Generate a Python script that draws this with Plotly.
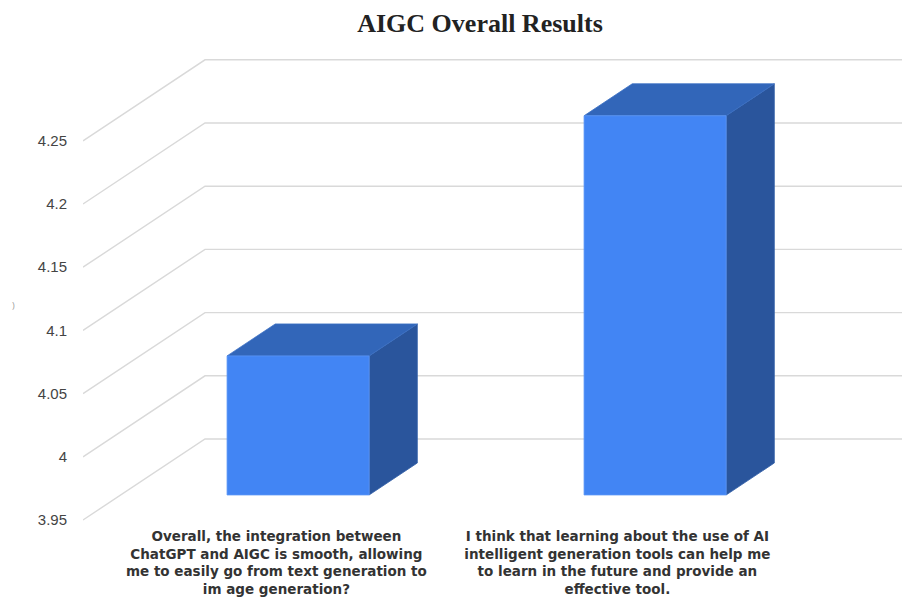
import plotly.graph_objects as go

# ---- data ----
categories = [
    "Overall, the integration between<br>ChatGPT and AIGC is smooth, allowing<br>me to easily go from text generation to<br>im age generation?",
    "I think that learning about the use of AI<br>intelligent generation tools can help me<br>to learn in the future and provide an<br>effective tool.",
]
values = [4.06, 4.25]
tick_vals = [3.95, 4.0, 4.05, 4.1, 4.15, 4.2, 4.25]
tick_text = ["3.95", "4", "4.05", "4.1", "4.15", "4.2", "4.25"]
title_text = "AIGC Overall Results"

# ---- layout geometry (styles) ----
OFF = 8                      # page body margin
W, H = 910 - OFF, 598 - OFF
ML = 83 - OFF
MR = 0
MT = 50 - OFF
MB = H - (524 - OFF)
PX_PER_CAT = 357.0
PX_PER_VAL = 1264.0
CAT0_PX = 260.4 - OFF
VAL0_PY = 520.0 - OFF        # pixel of first tick
LABEL_SHIFT_PX = [16, 0]     # category label nudges
plot_w = W - ML - MR
plot_h = H - MT - MB
XMIN = (ML - CAT0_PX) / PX_PER_CAT
XMAX = (W - MR - CAT0_PX) / PX_PER_CAT
YMIN = tick_vals[0] - ((H - MB) - VAL0_PY) / PX_PER_VAL
YMAX = tick_vals[0] + (VAL0_PY - MT) / PX_PER_VAL

# depth of the 3D box expressed in axis units
DX = 122.0 / PX_PER_CAT
DY = 81.0 / PX_PER_VAL
F1, F2 = 0.309, 0.704      # bar front / back depth fractions
HW = 0.199                 # bar half width (category units)
BASE = tick_vals[0]

fig = go.Figure()

# back wall gridlines + side diagonals
gx, gy = [], []
for v in tick_vals:
    gx += [XMIN, XMIN + DX, XMAX, None]
    gy += [v, v + DY, v + DY, None]
fig.add_trace(go.Scatter(x=gx, y=gy, mode="lines",
                         line=dict(color="#d9d9d9", width=1.4),
                         hoverinfo="skip", showlegend=False, cliponaxis=False))

FRONT = "#4285f4"
TOP = "#3266b9"
SIDE = "#2a559c"

for i, v in enumerate(values):
    c = i
    xl1, xr1 = c - HW + F1 * DX, c + HW + F1 * DX
    xl2, xr2 = c - HW + F2 * DX, c + HW + F2 * DX
    yb1, yt1 = BASE + F1 * DY, v + F1 * DY
    yb2, yt2 = BASE + F2 * DY, v + F2 * DY
    # side face
    fig.add_trace(go.Scatter(x=[xr1, xr2, xr2, xr1, xr1], y=[yt1, yt2, yb2, yb1, yt1],
                             fill="toself", fillcolor=SIDE, mode="lines",
                             line=dict(color="#3461a8", width=0.8),
                             hoverinfo="skip", showlegend=False))
    # top face
    fig.add_trace(go.Scatter(x=[xl1, xr1, xr2, xl2, xl1], y=[yt1, yt1, yt2, yt2, yt1],
                             fill="toself", fillcolor=TOP, mode="lines",
                             line=dict(color="#3b70c4", width=0.8),
                             hoverinfo="skip", showlegend=False))
    # front face
    fig.add_trace(go.Scatter(x=[xl1, xr1, xr1, xl1, xl1], y=[yb1, yb1, yt1, yt1, yb1],
                             fill="toself", fillcolor=FRONT, mode="lines",
                             line=dict(color="#5a95f5", width=0.8),
                             name="", hovertemplate=f"{v}<extra></extra>",
                             showlegend=False))

label_pos = [i + LABEL_SHIFT_PX[i] / PX_PER_CAT for i in range(len(categories))]

fig.update_layout(
    template="none",
    width=W, height=H,
    margin=dict(l=ML, r=MR, t=MT, b=MB, autoexpand=False),
    paper_bgcolor="white", plot_bgcolor="white",
    title=dict(text=f"<b>{title_text}</b>", x=(480 - OFF) / W, xanchor="center",
               y=1 - (23 - OFF) / H, yanchor="middle", xref="container", yref="container",
               font=dict(family="Liberation Serif, Times New Roman, serif", size=26, color="#222222")),
    xaxis=dict(range=[XMIN, XMAX], showgrid=False, zeroline=False, showline=False,
               automargin=False,
               tickmode="array", tickvals=label_pos, ticktext=categories,
               ticks="outside", ticklen=0, tickcolor="rgba(0,0,0,0)",
               tickfont=dict(family="DejaVu Sans, Arial, sans-serif", size=13.5, color="#333333",
                             weight="bold"),
               fixedrange=True),
    yaxis=dict(range=[YMIN, YMAX], showgrid=False, zeroline=False, showline=False,
               automargin=False,
               tickmode="array", tickvals=tick_vals, ticktext=tick_text,
               ticks="outside", ticklen=12, tickcolor="rgba(0,0,0,0)",
               tickfont=dict(family="Liberation Sans, Arial, sans-serif", size=15, color="#444444"),
               fixedrange=True),
    annotations=[
        dict(text=")", x=(10 - 83) / plot_w, y=((H - MB) - (305 - OFF)) / plot_h,
             xref="paper", yref="paper",
             showarrow=False, font=dict(size=9, color="#9a9a9a")),
    ],
)

fig.write_html("out.html")
